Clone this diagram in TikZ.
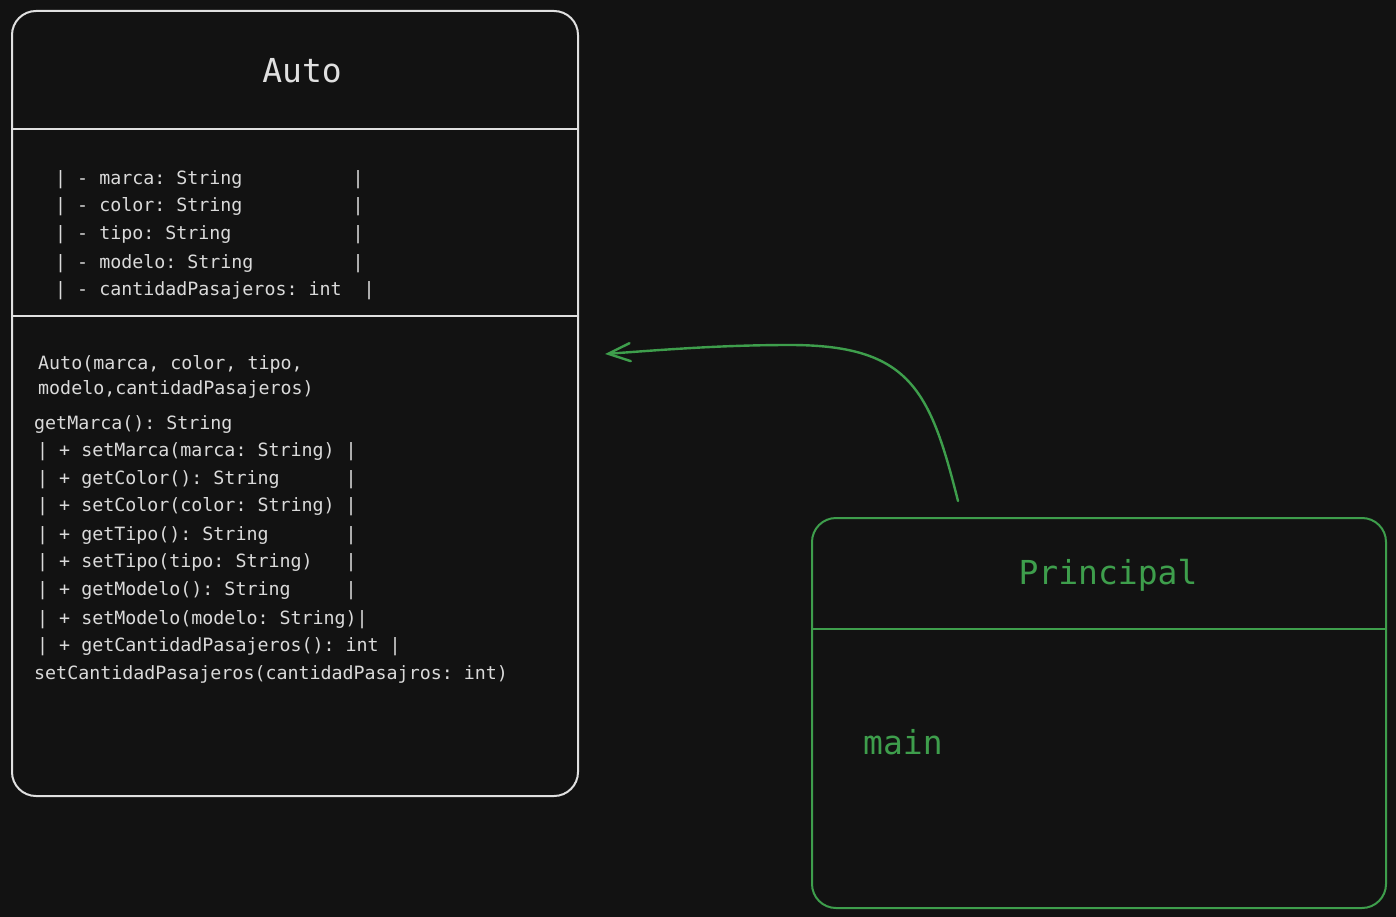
\documentclass[tikz,border=0pt]{standalone}
\usepackage{fontspec}
\newfontfamily\codefont{DejaVu Sans Mono}
\usetikzlibrary{arrows.meta}
\definecolor{bgcol}{HTML}{121212}
\definecolor{autocol}{HTML}{E0E0E0}
\definecolor{txtcol}{HTML}{DADADA}
\definecolor{grn}{HTML}{3E9E4C}
\tikzset{
  box/.style={draw=#1, line width=2pt, rounded corners=24pt, anchor=north west, inner sep=0pt},
  divider/.style={draw=#1, line width=2pt},
  body/.style={anchor=base west, inner sep=0pt, text=txtcol, font=\codefont\fontsize{18.3}{22}\selectfont\frenchspacing},
  title/.style={anchor=base, inner sep=0pt, text=#1, font=\codefont\fontsize{33}{38}\selectfont},
  conn/.style={draw=grn, line width=2.4pt, line cap=round, -{Straight Barb[length=22pt,width=18pt,line cap=round]}}
}
\begin{document}
\begin{tikzpicture}[x=1pt,y=-1pt]
\fill[bgcol] (0,0) rectangle (1396,917);
\useasboundingbox (0,0) rectangle (1396,917);

% Auto class
\node[box=autocol, minimum width=566pt, minimum height=785pt] (auto) at (11,10) {};
\coordinate (a1l) at (11,129); \coordinate (a1r) at (577,129);
\coordinate (a2l) at (11,316); \coordinate (a2r) at (577,316);
\draw[divider=autocol] (a1l) -- (a1r);
\draw[divider=autocol] (a2l) -- (a2r);
\node[title=autocol] (autoT) at (302,83) {Auto};

\node[body] (f1) at (55,185) {|~-~marca:~String~~~~~~~~~~|};
\node[body] (f2) at (55,212) {|~-~color:~String~~~~~~~~~~|};
\node[body] (f3) at (55,240) {|~-~tipo:~String~~~~~~~~~~~|};
\node[body] (f4) at (55,268) {|~-~modelo:~String~~~~~~~~~|};
\node[body] (f5) at (55,295) {|~-~cantidadPasajeros:~int~~|};

\node[body] (m0) at (38,369) {Auto(marca,~color,~tipo,};
\node[body] (m0b) at (38,394) {modelo,cantidadPasajeros)};
\node[body] (m1) at (34,429) {getMarca():~String};
\node[body] (m2) at (37,456) {|~+~setMarca(marca:~String)~|};
\node[body] (m3) at (37,484) {|~+~getColor():~String~~~~~~|};
\node[body] (m4) at (37,511) {|~+~setColor(color:~String)~|};
\node[body] (m5) at (37,540) {|~+~getTipo():~String~~~~~~~|};
\node[body] (m6) at (37,567) {|~+~setTipo(tipo:~String)~~~|};
\node[body] (m7) at (37,595) {|~+~getModelo():~String~~~~~|};
\node[body] (m8) at (37,624) {|~+~setModelo(modelo:~String)|};
\node[body] (m9) at (37,651) {|~+~getCantidadPasajeros():~int~|};
\node[body] (m10) at (34,679) {setCantidadPasajeros(cantidadPasajros:~int)};

% Principal class
\node[box=grn, minimum width=574pt, minimum height=390pt] (princ) at (811,517) {};
\coordinate (p1l) at (811,629); \coordinate (p1r) at (1385,629);
\draw[divider=grn] (p1l) -- (p1r);
\node[title=grn] (princT) at (1108,584) {Principal};
\node[title=grn, anchor=base west] (mainT) at (863,754) {main};

% connector
\coordinate (arrStart) at (958,501);
\coordinate (arrEnd) at (605,354);
\draw[conn] (arrStart) .. controls (930,390) and (910,345) .. (790,345)
            .. controls (720,345) and (660,350) .. (arrEnd);
\end{tikzpicture}
\end{document}
